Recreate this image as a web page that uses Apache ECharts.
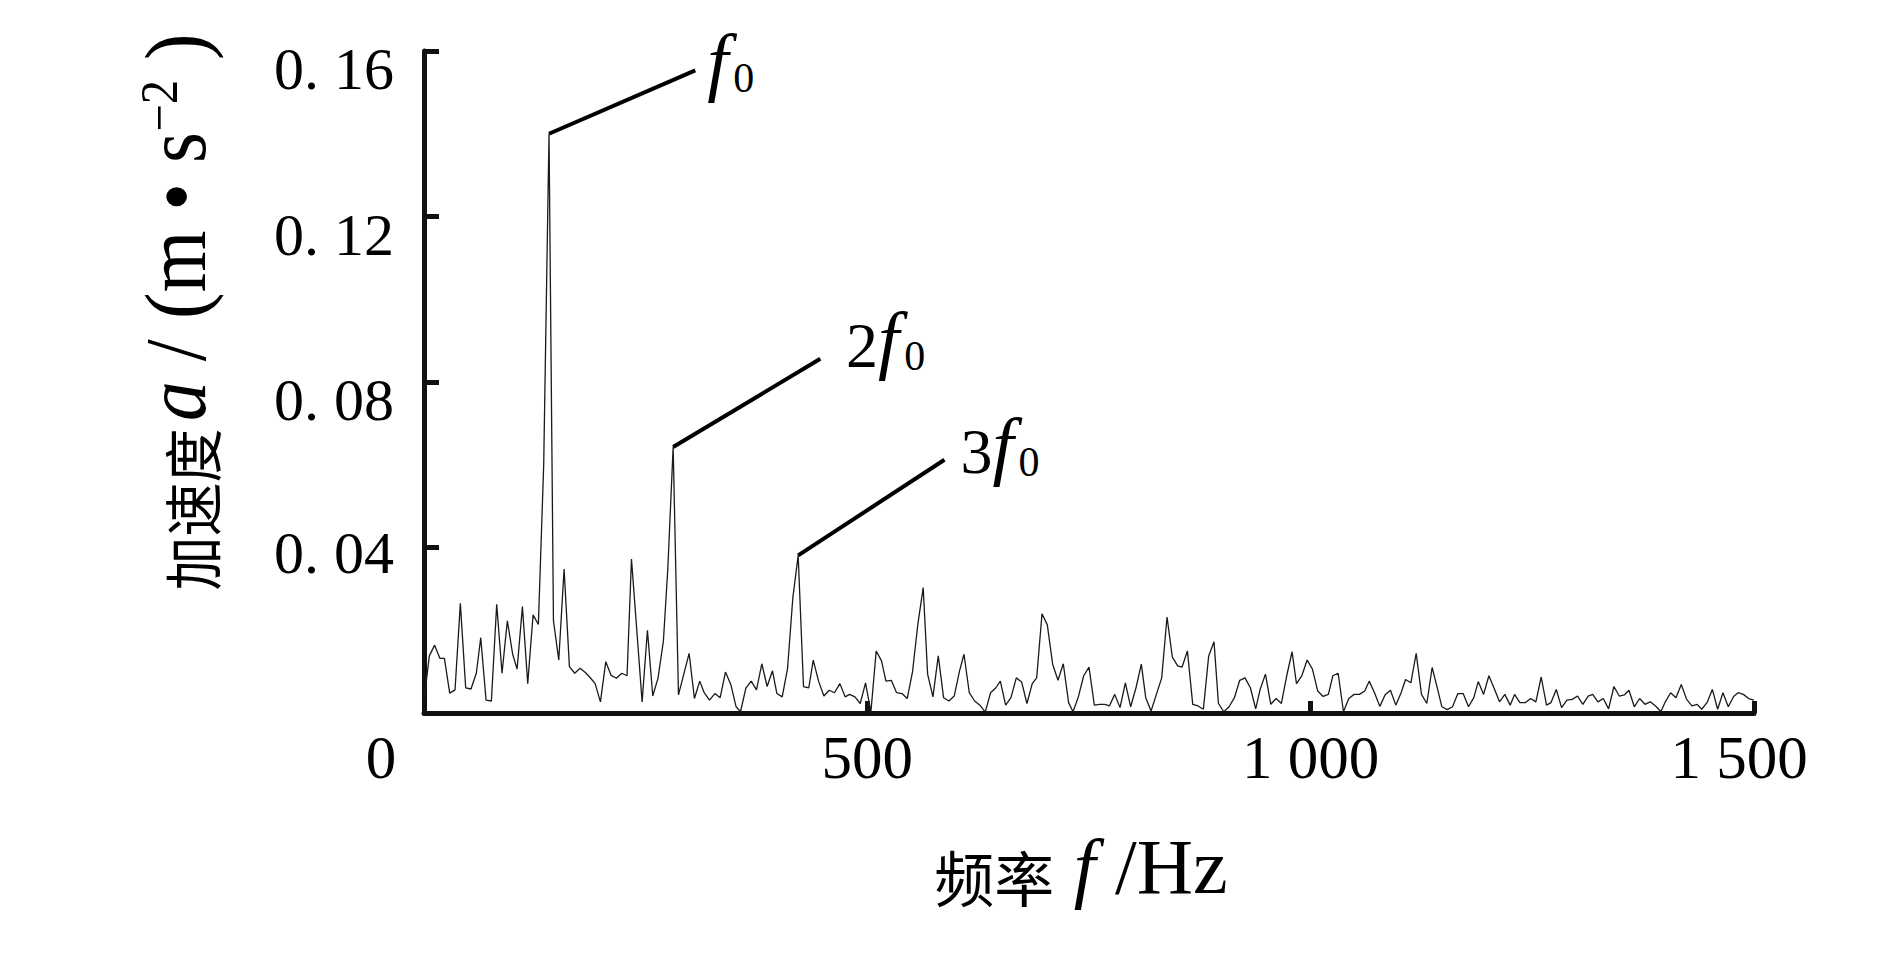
<!DOCTYPE html>
<html>
<head>
<meta charset="utf-8">
<script src="https://cdn.jsdelivr.net/npm/echarts@6/dist/echarts.min.js"></script>
<style>
html,body{margin:0;padding:0;background:#fff;}
#chart{width:1890px;height:954px;}
</style>
</head>
<body>
<div id="chart"></div>
<script>
// Frequency grid (Hz) of the spectrum samples
const freqHz = [0,6,12,18,23,29,35,41,47,53,59,64,70,76,82,88,94,100,105,111,117,123,129,135,141,146,152,158,164,170,176,182,188,193,199,205,211,217,223,229,
234,240,246,252,258,264,270,275,281,287,293,299,305,311,316,322,328,334,340,346,352,357,363,369,375,381,387,393,398,404,410,416,422,428,434,439,445,451,457,463,
469,475,480,486,492,498,504,510,516,521,527,533,539,545,551,557,563,568,574,580,586,592,598,604,609,615,621,627,633,639,645,650,656,662,668,674,680,686,691,697,
703,709,715,721,727,732,738,744,750,756,762,768,773,779,785,791,797,803,809,814,820,826,832,838,844,850,855,861,867,873,879,885,891,896,902,908,914,920,926,932,
938,943,949,955,961,967,973,979,984,990,996,1002,1008,1014,1020,1025,1031,1037,1043,1049,1055,1061,1066,1072,1078,1084,1090,1096,1102,1107,1113,1119,1125,1131,1137,1143,1148,1154,1160,1166,
1172,1178,1184,1189,1195,1201,1207,1213,1219,1225,1230,1236,1242,1248,1254,1260,1266,1271,1277,1283,1289,1295,1301,1307,1313,1318,1324,1330,1336,1342,1348,1354,1359,1365,1371,1377,1383,1389,1395,1400,
1406,1412,1418,1424,1430,1436,1441,1447,1453,1459,1465,1471,1477,1482,1488,1494,1500];

// Acceleration amplitude a (m·s^-2)
const accel = [0.0030,0.0138,0.0164,0.0132,0.0132,0.0048,0.0056,0.0265,0.0061,0.0058,0.0096,0.0182,0.0031,0.0029,0.0263,0.0096,0.0223,0.0142,0.0106,0.0257,
0.0071,0.0237,0.0214,0.0600,0.1400,0.0223,0.0128,0.0348,0.0112,0.0096,0.0108,0.0098,0.0084,0.0071,0.0027,0.0124,0.0091,0.0084,0.0096,0.0090,
0.0372,0.0200,0.0027,0.0200,0.0041,0.0085,0.0174,0.0350,0.0643,0.0044,0.0094,0.0144,0.0035,0.0077,0.0049,0.0031,0.0047,0.0037,0.0099,0.0069,
0.0015,0.0003,0.0060,0.0077,0.0056,0.0119,0.0064,0.0102,0.0047,0.0039,0.0107,0.0279,0.0381,0.0064,0.0061,0.0128,0.0077,0.0041,0.0055,0.0049,
0.0071,0.0039,0.0045,0.0039,0.0023,0.0073,0.0002,0.0150,0.0126,0.0077,0.0079,0.0049,0.0047,0.0035,0.0100,0.0215,0.0303,0.0094,0.0039,0.0138,
0.0037,0.0029,0.0041,0.0102,0.0142,0.0049,0.0029,0.0019,0.0002,0.0049,0.0061,0.0077,0.0019,0.0037,0.0085,0.0075,0.0023,0.0071,0.0085,0.0240,
0.0213,0.0118,0.0079,0.0119,0.0025,0.0003,0.0039,0.0090,0.0111,0.0019,0.0021,0.0021,0.0017,0.0045,0.0013,0.0073,0.0015,0.0061,0.0118,0.0037,
0.0005,0.0045,0.0085,0.0232,0.0135,0.0114,0.0111,0.0150,0.0021,0.0017,0.0009,0.0138,0.0172,0.0023,0.0003,0.0015,0.0037,0.0079,0.0085,0.0061,
0.0010,0.0057,0.0094,0.0021,0.0035,0.0023,0.0090,0.0148,0.0071,0.0090,0.0128,0.0106,0.0053,0.0040,0.0045,0.0090,0.0096,0.0003,0.0035,0.0045,
0.0045,0.0053,0.0077,0.0049,0.0016,0.0044,0.0055,0.0019,0.0049,0.0081,0.0073,0.0144,0.0045,0.0023,0.0110,0.0059,0.0015,0.0008,0.0015,0.0047,
0.0047,0.0015,0.0037,0.0076,0.0045,0.0090,0.0059,0.0027,0.0045,0.0019,0.0045,0.0025,0.0025,0.0035,0.0027,0.0087,0.0019,0.0025,0.0057,0.0013,
0.0031,0.0033,0.0041,0.0021,0.0041,0.0045,0.0027,0.0035,0.0010,0.0064,0.0041,0.0044,0.0055,0.0015,0.0035,0.0021,0.0027,0.0017,0.0003,0.0027,
0.0049,0.0037,0.0069,0.0033,0.0017,0.0021,0.0009,0.0025,0.0057,0.0009,0.0049,0.0015,0.0040,0.0049,0.0045,0.0035,0.0031];

// Tick labels
const xTickValues = [0, 500, 1000, 1500];
const xTickLabels = ['0', '500', '1 000', '1 500'];
const yTickValues = [0, 0.04, 0.08, 0.12, 0.16];
const yTickLabels = ['', '0. 04', '0. 08', '0. 12', '0. 16'];

// Harmonic annotations: sample index of each peak, label parts, and leader end (data space)
const peakIndex = [24, 48, 72];
const peakPrefix = ['', '2', '3'];
const leaderEnd = [[306, 0.1553], [447, 0.0856], [587, 0.0612]];

const SERIF = '"Liberation Serif","Times New Roman","DejaVu Serif",serif';
const CJK = '"Noto Sans CJK SC","Noto Sans CJK JP",sans-serif';

const seriesData = freqHz.map((f, i) => [f, accel[i]]);

const harmonicLabelRich = {
  n: {fontFamily: SERIF, fontSize: 64, color: '#000', lineHeight: 68, verticalAlign: 'bottom'},
  it: {fontFamily: SERIF, fontStyle: 'italic', fontSize: 76, color: '#000', lineHeight: 68, verticalAlign: 'bottom'},
  sub: {fontFamily: SERIF, fontSize: 42, color: '#000', lineHeight: 40, verticalAlign: 'bottom', padding: [0, 0, 0, 5]}
};
const labelGap = [13, 30, 19];

const markLineData = peakIndex.map((idx, k) => [
  {coord: [freqHz[idx], accel[idx]]},
  {coord: leaderEnd[k],
   label: {distance: labelGap[k],
           formatter: (peakPrefix[k] ? '{n|' + peakPrefix[k] + '}' : '') + '{it|f}{sub|0}'}}
]);

// Y-axis title tokens (rich text), stretched to the reference's length
const yNameTokens = [
  ['cn', '加速度'], ['it', 'a'], ['n', ' / ('], ['n', 'm'], ['n', ' • '], ['n', 's'], ['sup', '−2'], ['n', ' )']
];
const yNameStyles = {
  cn: {fontFamily: CJK, fontSize: 42, fill: '#000', lineHeight: 62, verticalAlign: 'bottom'},
  it: {fontFamily: SERIF, fontStyle: 'italic', fontSize: 62, fill: '#000', lineHeight: 62, verticalAlign: 'bottom', padding: [0, 0, 0, 6]},
  n: {fontFamily: SERIF, fontSize: 62, fill: '#000', lineHeight: 62, verticalAlign: 'bottom'},
  sup: {fontFamily: SERIF, fontSize: 38, fill: '#000', lineHeight: 62, verticalAlign: 'top'}
};
const measureCtx = document.createElement('canvas').getContext('2d');
let yNameNatural = 0;
yNameTokens.forEach(([s, t]) => {
  const st = yNameStyles[s];
  measureCtx.font = (st.fontStyle || 'normal') + ' normal ' + st.fontSize + 'px ' + st.fontFamily;
  yNameNatural += measureCtx.measureText(t).width + (st.padding ? st.padding[3] : 0);
});
const yNameTargetLength = 557;
const yNameScale = yNameTargetLength / yNameNatural;

const chart = echarts.init(document.getElementById('chart'), null, {renderer: 'svg'});

const option = {
  animation: false,
  backgroundColor: '#ffffff',
  grid: {left: 424, right: 136, top: 51, bottom: 241, containLabel: false},
  xAxis: {
    type: 'value',
    min: 0, max: 1500, interval: 500,
    name: '{cn|频率}{it| f}{n| /Hz}',
    nameLocation: 'middle',
    nameGap: 120,
    nameTextStyle: {
      padding: [0, 16, 0, 0],
      rich: {
        cn: {fontFamily: CJK, fontSize: 60, color: '#000', lineHeight: 72, verticalAlign: 'bottom'},
        it: {fontFamily: SERIF, fontStyle: 'italic', fontSize: 78, color: '#000', lineHeight: 72, verticalAlign: 'bottom'},
        n: {fontFamily: SERIF, fontSize: 78, color: '#000', lineHeight: 72, verticalAlign: 'bottom'}
      }
    },
    axisLine: {show: true, onZero: false, lineStyle: {color: '#111', width: 5, cap: 'round'}},
    axisTick: {show: true, inside: true, length: 12, lineStyle: {color: '#111', width: 5}},
    splitLine: {show: false},
    axisLabel: {
      margin: 14,
      formatter: function (v) {
        const k = xTickValues.indexOf(v);
        const t = k >= 0 ? xTickLabels[k] : '';
        if (v === 0) return '{z|' + t + '}';
        if (v === 1500) return '{e|' + t + '}';
        return '{m|' + t + '}';
      },
      rich: {
        z: {fontFamily: SERIF, fontSize: 61, color: '#000', padding: [0, 86, 0, 0]},
        m: {fontFamily: SERIF, fontSize: 61, color: '#000'},
        e: {fontFamily: SERIF, fontSize: 61, color: '#000', padding: [0, 30, 0, 0]}
      }
    }
  },
  yAxis: {
    type: 'value',
    min: 0, max: 0.16, interval: 0.04,
    axisLine: {show: true, onZero: false, lineStyle: {color: '#111', width: 5, cap: 'round'}},
    axisTick: {show: true, inside: true, length: 15, lineStyle: {color: '#111', width: 5}},
    splitLine: {show: false},
    axisLabel: {
      margin: 30,
      formatter: function (v) {
        let k = -1;
        yTickValues.forEach((tv, i) => { if (Math.abs(tv - v) < 1e-9) k = i; });
        const t = k >= 0 ? yTickLabels[k] : '';
        if (!t) return '';
        if (k === 1) return '{l|' + t + '}';
        return '{h|' + t + '}';
      },
      rich: {
        h: {fontFamily: SERIF, fontSize: 60, color: '#000', padding: [36, 0, 0, 0]},
        l: {fontFamily: SERIF, fontSize: 60, color: '#000', padding: [10, 0, 0, 0]}
      }
    }
  },
  graphic: [{
    type: 'text',
    x: 176, y: 312,
    rotation: Math.PI / 2,
    scaleX: yNameScale,
    scaleY: 1.4,
    style: {
      text: yNameTokens.map(([s, t]) => '{' + s + '|' + t + '}').join(''),
      align: 'center',
      verticalAlign: 'middle',
      rich: yNameStyles
    }
  }],
  series: [{
    type: 'line',
    data: seriesData,
    showSymbol: false,
    symbol: 'none',
    lineStyle: {color: '#1a1a1a', width: 1.3},
    markLine: {
      silent: true,
      symbol: ['none', 'none'],
      lineStyle: {color: '#000', width: 4, type: 'solid'},
      label: {show: true, position: 'end', distance: 12, rich: harmonicLabelRich},
      data: markLineData
    }
  }]
};

chart.setOption(option);
</script>
</body>
</html>
